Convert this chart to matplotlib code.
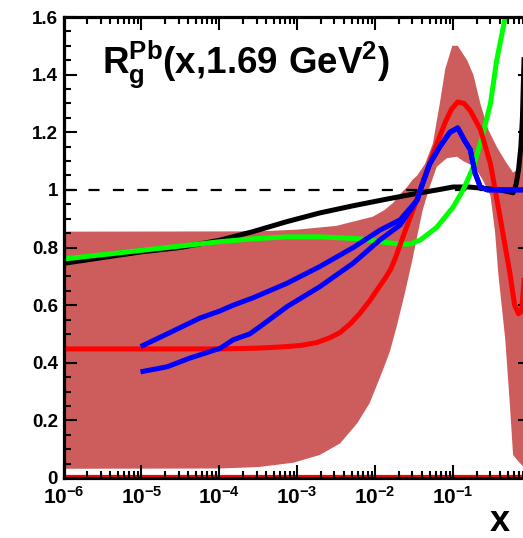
import matplotlib
matplotlib.use("Agg")
import matplotlib.pyplot as plt
from matplotlib.ticker import LogLocator, MultipleLocator, NullFormatter
import numpy as np

plt.rcParams['font.family'] = ['Liberation Sans', 'DejaVu Sans']
plt.rcParams['font.weight'] = 'bold'
plt.rcParams['mathtext.fontset'] = 'custom'
plt.rcParams['mathtext.bf'] = 'Liberation Sans:bold'
plt.rcParams['mathtext.rm'] = 'Liberation Sans:bold'
plt.rcParams['mathtext.it'] = 'Liberation Sans:bold'

# ---- gluon nuclear modification R_g^Pb at Q^2 = 1.69 GeV^2 (x given as log10) ----

# uncertainty band, upper and lower edges
band_up_lx = [-6.0, -3.5, -3.0, -2.5, -2.28, -2.03, -1.88, -1.77, -1.68, -1.59, -1.52, -1.46,
              -1.36, -1.26, -1.17, -1.10, -1.01, -0.94, -0.82, -0.74, -0.65, -0.55, -0.44,
              -0.33, -0.23, -0.17, -0.10, 0.0]
band_up = [0.855, 0.856, 0.862, 0.875, 0.89, 0.907, 0.93, 0.955, 0.985, 1.01, 1.035, 1.05,
           1.09, 1.16, 1.30, 1.42, 1.50, 1.50, 1.45, 1.40, 1.30, 1.21, 1.15,
           1.10, 1.06, 1.07, 1.14, 1.40]
band_lo_lx = [-6.0, -4.0, -3.5, -3.05, -2.71, -2.45, -2.23, -2.07, -1.90, -1.81, -1.72, -1.62,
              -1.52, -1.46, -1.39, -1.30, -1.21, -1.08, -0.95, -0.87, -0.72, -0.61, -0.52,
              -0.46, -0.42, -0.33, -0.27, -0.23, -0.17, -0.10, 0.0]
band_lo = [0.032, 0.033, 0.038, 0.053, 0.08, 0.12, 0.19, 0.26, 0.375, 0.44, 0.53, 0.64,
           0.76, 0.84, 0.93, 1.01, 1.08, 1.11, 1.115, 1.10, 1.08, 1.03, 0.98,
           0.85, 0.71, 0.48, 0.25, 0.08, 0.06, 0.04, 0.02]

# central fits
black_lx = [-6.0, -5.5, -5.0, -4.5, -4.0, -3.57, -3.13, -2.71, -2.28, -1.85, -1.46, -1.2,
            -1.0, -0.8, -0.6, -0.4, -0.23, -0.19, -0.16, -0.13, -0.11, -0.09, 0.0]
black_y = [0.745, 0.765, 0.785, 0.80, 0.825, 0.855, 0.89, 0.92, 0.945, 0.968, 0.988, 1.0,
           1.01, 1.01, 1.005, 1.0, 0.99, 1.02, 1.07, 1.15, 1.25, 1.45, 2.5]

green_lx = [-6.0, -5.5, -5.0, -4.5, -4.0, -3.57, -3.13, -2.71, -2.19, -1.94, -1.68, -1.55,
            -1.42, -1.21, -1.0, -0.87, -0.74, -0.63, -0.52, -0.44, -0.33, -0.2]
green_y = [0.76, 0.775, 0.79, 0.805, 0.82, 0.83, 0.837, 0.837, 0.83, 0.82, 0.812, 0.812,
           0.826, 0.87, 0.94, 1.0, 1.08, 1.18, 1.30, 1.45, 1.60, 1.90]

red_lx = [-6.0, -5.0, -4.0, -3.48, -3.2, -2.96, -2.75, -2.58, -2.45, -2.32, -2.2, -2.07,
          -1.97, -1.87, -1.8, -1.74, -1.62, -1.49, -1.36, -1.23, -1.10, -1.02, -0.94,
          -0.86, -0.78, -0.65, -0.52, -0.40, -0.27, -0.21, -0.16, -0.12, -0.10, 0.0]
red_y = [0.448, 0.448, 0.448, 0.451, 0.455, 0.46, 0.47, 0.487, 0.505, 0.535, 0.57, 0.615,
         0.655, 0.694, 0.725, 0.764, 0.854, 0.948, 1.05, 1.145, 1.235, 1.28, 1.305,
         1.30, 1.275, 1.21, 1.09, 0.91, 0.71, 0.60, 0.57, 0.58, 0.65, 1.0]

# two blue fits that join above x ~ 0.03
blue_a_lx = [-4.98, -4.67, -4.25, -3.99, -3.82, -3.57, -3.13, -2.71, -2.28, -1.94, -1.68]
blue_a_y = [0.46, 0.50, 0.555, 0.58, 0.60, 0.625, 0.676, 0.734, 0.80, 0.86, 0.896]
blue_b_lx = [-4.98, -4.67, -4.38, -3.99, -3.82, -3.61, -3.48, -3.13, -2.71, -2.28, -1.94, -1.68]
blue_b_y = [0.37, 0.386, 0.416, 0.45, 0.48, 0.50, 0.525, 0.595, 0.664, 0.746, 0.826, 0.878]
blue_hi_lx = [-1.46, -1.42, -1.30, -1.17, -1.04, -0.94, -0.85, -0.78, -0.72, -0.65, -0.56, 0.0]
blue_hi_y = [0.965, 1.0, 1.09, 1.15, 1.20, 1.215, 1.17, 1.14, 1.06, 1.01, 1.0, 1.0]

unity = 1.0
zero_line = 0.0

x_tick_exp = [-6, -5, -4, -3, -2, -1]
y_ticks = [0, 0.2, 0.4, 0.6, 0.8, 1.0, 1.2, 1.4, 1.6]
y_tick_labels = ['0', '0.2', '0.4', '0.6', '0.8', '1', '1.2', '1.4', '1.6']


def xs(lx):
    return 10.0 ** np.asarray(lx, dtype=float)


fig = plt.figure(figsize=(5.23, 5.38), dpi=100)
# right frame sits just past the figure edge
ax = fig.add_axes([63.5 / 523, 60 / 538, 467.5 / 523, 461 / 538])
ax.set_xscale('log')
ax.set_xlim(1e-6, 1.0)
ax.set_ylim(0, 1.6)

# band polygon
bx = np.concatenate([xs(band_up_lx), xs(band_lo_lx)[::-1]])
by = np.concatenate([band_up, band_lo[::-1]])
ax.fill(bx, by, color='#cd5c5c', lw=0, zorder=1)

ax.axhline(zero_line, color='red', lw=4.5, zorder=1.5)
ax.axhline(unity, color='black', lw=1.6, dashes=(5, 6), zorder=1.6)

lw = 3.6
ax.plot(xs(black_lx), black_y, color='black', lw=lw, zorder=3, solid_joinstyle='round')
ax.plot(xs(green_lx), green_y, color='#00ff00', lw=lw, zorder=3.1, solid_joinstyle='round')
ax.plot(xs(red_lx), red_y, color='#ff0000', lw=lw, zorder=3.2, solid_joinstyle='round')
ax.plot(xs(blue_a_lx + blue_hi_lx), blue_a_y + blue_hi_y, color='#0000ff', lw=lw,
        zorder=3.3, solid_joinstyle='round')
ax.plot(xs(blue_b_lx + blue_hi_lx), blue_b_y + blue_hi_y, color='#0000ff', lw=lw,
        zorder=3.3, solid_joinstyle='round')

# ticks (10^0 falls outside the picture, left unlabeled)
ax.set_xticks(xs(x_tick_exp), [r'$\mathbf{10^{%d}}$' % e for e in x_tick_exp])
ax.xaxis.set_minor_locator(LogLocator(base=10, subs=np.arange(2, 10), numticks=20))
ax.xaxis.set_minor_formatter(NullFormatter())
ax.set_yticks(y_ticks, y_tick_labels)
ax.yaxis.set_minor_locator(MultipleLocator(0.05))

ax.tick_params(which='both', direction='in', top=True, right=True, width=1.5, color='black')
ax.tick_params(which='major', length=9.5)
ax.tick_params(which='minor', length=5)
ax.tick_params(axis='y', labelsize=13.5, pad=4)
ax.tick_params(axis='x', labelsize=15, pad=6)
for s in ax.spines.values():
    s.set_linewidth(2.3)
    s.set_zorder(5)

fig.text(102 / 523, 1 - 73 / 538, r'$\mathbf{R_{g}^{Pb}(x{,}1.69\ GeV^{2})}$',
         fontsize=26.5, ha='left', va='baseline')
fig.text(500 / 523, 1 - 531 / 538, 'x', fontsize=26, fontweight='bold',
         ha='center', va='baseline')

fig.savefig('out.png', dpi=100)
